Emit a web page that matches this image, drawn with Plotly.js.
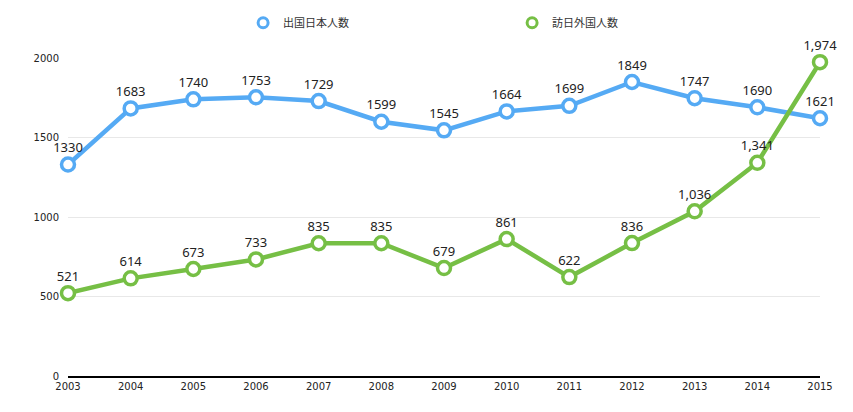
<!DOCTYPE html>
<html><head><meta charset="utf-8">
<script src="https://cdn.plot.ly/plotly-3.0.1.min.js"></script>
<style>body{margin:0;background:#fff}#c{width:853px;height:412px}</style>
</head><body><div id="c"></div>
<script>
const years = ['2003','2004','2005','2006','2007','2008','2009','2010','2011','2012','2013','2014','2015'];
const outbound = [1330,1683,1740,1753,1729,1599,1545,1664,1699,1849,1747,1690,1621];
const inbound = [521,614,673,733,835,835,679,861,622,836,1036,1341,1974];
const seriesNames = ['出国日本人数','訪日外国人数'];
const yTicks = [0,500,1000,1500,2000];
const colors = ['#55aaf4','#76bf45'];

const labelFont = {family:'Noto Sans, DejaVu Sans, sans-serif', size:13, color:'#222'};
function tr(y, name, color, tmpl){
  return {x:years, y:y, name:name, type:'scatter', mode:'lines+markers+text', showlegend:false,
    line:{color:color, width:4.5},
    marker:{symbol:'circle', size:13, color:'#fff', line:{color:color, width:3.5}},
    texttemplate:tmpl, textposition:'top center', textfont:labelFont, cliponaxis:false};
}
function leg(name, color){
  return {x:[null], y:[null], name:name, type:'scatter', mode:'markers', showlegend:true,
    marker:{symbol:'circle', size:10, color:'#fff', line:{color:color, width:3}}};
}
const data = [tr(outbound, seriesNames[0], colors[0], '%{y}'), tr(inbound, seriesNames[1], colors[1], '%{y:,}'),
  leg(seriesNames[0], colors[0]), leg(seriesNames[1], colors[1])];
const layout = {
  width:853, height:412, margin:{l:68, r:33, t:58, b:36},
  paper_bgcolor:'#fff', plot_bgcolor:'#fff',
  font:{family:'DejaVu Sans, sans-serif', size:10, color:'#222'},
  showlegend:true,
  legend:{orientation:'h', x:0.285, xref:'container', xanchor:'left', y:0.98, yref:'container', yanchor:'top',
    entrywidth:224, font:{family:'Noto Sans CJK JP, sans-serif', size:11, color:'#333'}, itemclick:false},
  xaxis:{type:'category', range:[0,12], showgrid:false, showline:true, linecolor:'#000', linewidth:1.5,
    ticks:'', tickfont:{size:10}, fixedrange:true},
  yaxis:{range:[0,2000], tickvals:yTicks, showgrid:true, gridcolor:'#e8e8e8', gridwidth:1,
    zeroline:true, zerolinecolor:'#000', zerolinewidth:1.5, ticks:'', ticklabelstandoff:8, tickfont:{size:10}, fixedrange:true}
};
Plotly.newPlot('c', data, layout, {displayModeBar:false, staticPlot:true});
</script></body></html>
